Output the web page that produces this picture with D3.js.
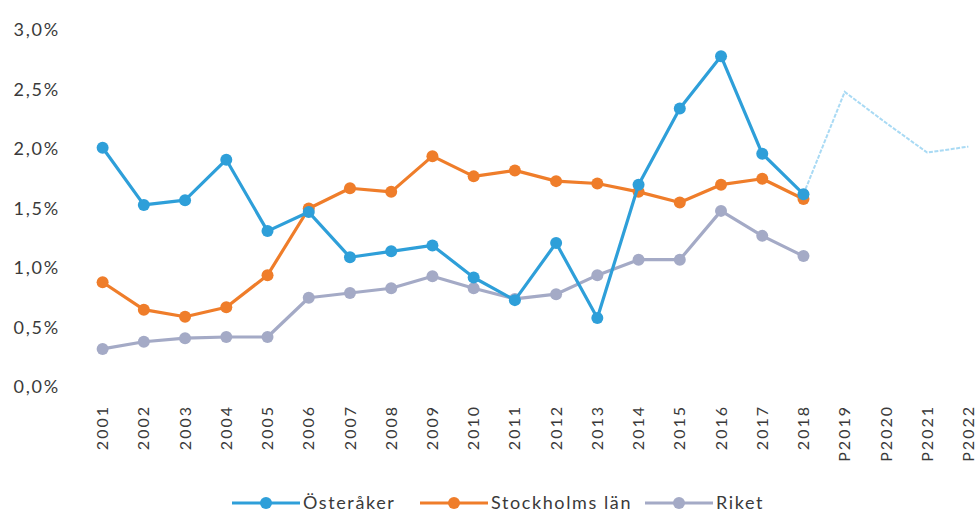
<!DOCTYPE html>
<html>
<head>
<meta charset="utf-8">
<script src="https://cdn.jsdelivr.net/npm/d3@7"></script>
<style>
  body { margin: 0; background: #fff; }
  svg text { font-family: Lato, "Open Sans", sans-serif; fill: #3a3a3a; }
</style>
</head>
<body>
<script>
// categories (x axis)
var years = ["2001","2002","2003","2004","2005","2006","2007","2008","2009","2010",
             "2011","2012","2013","2014","2015","2016","2017","2018",
             "P2019","P2020","P2021","P2022"];

// series values, in percent
var osteraker = [2.01,1.53,1.57,1.91,1.31,1.47,1.09,1.14,1.19,0.92,0.73,1.21,0.58,1.70,2.34,2.78,1.96,1.62];
var stockholm = [0.88,0.65,0.59,0.67,0.94,1.50,1.67,1.64,1.94,1.77,1.82,1.73,1.71,1.64,1.55,1.70,1.75,1.58];
var riket     = [0.32,0.38,0.41,0.42,0.42,0.75,0.79,0.83,0.93,0.83,0.74,0.78,0.94,1.07,1.07,1.48,1.27,1.10];
// forecast for Österåker (P2019 - P2022)
var prognos   = [2.48,2.22,1.97,2.02];

var yTicks = [0,0.5,1,1.5,2,2.5,3];
var seriesNames = ["Österåker","Stockholms län","Riket"];

var colors = {"Österåker": "#2e9fd9", "Stockholms län": "#ef7d2a", "Riket": "#a4aac6"};

var W = 980, H = 514;
var margin = {top: 30, right: -9, bottom: 127, left: 82};
var width = W - margin.left - margin.right,
    height = H - margin.top - margin.bottom;

var svg = d3.select("body").append("svg")
    .attr("width", W)
    .attr("height", H)
  .append("g")
    .attr("transform", "translate(" + margin.left + "," + margin.top + ")");

var x = d3.scaleBand().domain(years).range([0, width]);
var y = d3.scaleLinear().domain([0, 3]).range([height, 0]);

var sv = d3.formatLocale({decimal: ",", thousands: " ", grouping: [3], currency: ["", " kr"]});
var fmt = sv.format(".1f");

// y axis labels
var yAxis = svg.append("g")
    .call(d3.axisLeft(y).tickValues(yTicks).tickSize(0).tickPadding(22)
      .tickFormat(function(d) { return fmt(d) + "%"; }));
yAxis.select(".domain").remove();
yAxis.selectAll("text")
    .style("font-size", "18px")
    .style("letter-spacing", "1.8px")
    .style("fill", "#3a3a3a");

// x axis labels
var xAxis = svg.append("g")
    .attr("transform", "translate(0," + height + ")")
    .call(d3.axisBottom(x).tickSize(0).tickPadding(0));
xAxis.select(".domain").remove();
xAxis.selectAll("text")
    .style("font-size", "16px")
    .style("letter-spacing", "2px")
    .style("fill", "#3a3a3a")
    .attr("text-anchor", "end")
    .attr("transform", "rotate(-90)")
    .attr("x", -18)
    .attr("y", 0)
    .attr("dy", "0.35em");

function cx(i) { return x(years[i]) + x.bandwidth() / 2; }

var line = d3.line()
    .x(function(d) { return cx(d.i); })
    .y(function(d) { return y(d.v); });

// forecast line (starts at 2018)
var progData = [{i: 17, v: osteraker[17]}].concat(prognos.map(function(v, k) { return {i: 18 + k, v: v}; }));
svg.append("path")
    .datum(progData)
    .attr("fill", "none")
    .attr("stroke", "#a9daf4")
    .attr("stroke-width", 2)
    .attr("stroke-dasharray", "4,1.5")
    .attr("d", line);

var series = [
  {name: "Riket", values: riket},
  {name: "Stockholms län", values: stockholm},
  {name: "Österåker", values: osteraker}
];

series.forEach(function(s) {
  var pts = s.values.map(function(v, i) { return {i: i, v: v}; });
  svg.append("path")
      .datum(pts)
      .attr("fill", "none")
      .attr("stroke", colors[s.name])
      .attr("stroke-width", 3.2)
      .attr("stroke-linejoin", "round")
      .attr("d", line);
  svg.selectAll(null)
      .data(pts)
    .enter().append("circle")
      .attr("r", 6)
      .attr("cx", function(d) { return cx(d.i); })
      .attr("cy", function(d) { return y(d.v); })
      .attr("fill", colors[s.name]);
});

// legend
var legendX = [232, 420, 645];
var legend = d3.select("svg").selectAll(".legend")
    .data(seriesNames)
  .enter().append("g")
    .attr("class", "legend")
    .attr("transform", function(d, i) { return "translate(" + legendX[i] + ",503)"; });

legend.append("line")
    .attr("x1", 0).attr("x2", 68)
    .attr("y1", 0).attr("y2", 0)
    .attr("stroke", function(d) { return colors[d]; })
    .attr("stroke-width", 3.2);
legend.append("circle")
    .attr("cx", 34).attr("cy", 0).attr("r", 6)
    .attr("fill", function(d) { return colors[d]; });
legend.append("text")
    .attr("x", 71)
    .attr("y", 0)
    .attr("dy", "0.35em")
    .style("font-size", "18px")
    .style("letter-spacing", "1.6px")
    .text(function(d) { return d; });
</script>
</body>
</html>
